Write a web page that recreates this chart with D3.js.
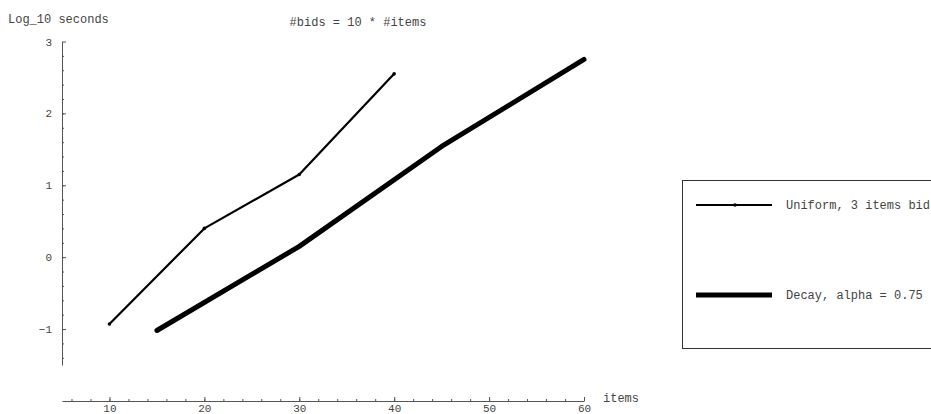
<!DOCTYPE html>
<html lang="en">
<head>
<meta charset="UTF-8">
<title>bids = 10 * items</title>
<script src="https://d3js.org/d3.v7.min.js"></script>
<style>
body { margin: 0; background: #fff; overflow: hidden; }
svg { display: block; }
text { font-family: "Liberation Mono", "DejaVu Sans Mono", monospace; }
.axis path, .axis line { stroke: #555; }
.axis text { fill: #444; font-size: 11px; font-family: "Liberation Mono", monospace; }
</style>
</head>
<body>
<script>
// data
const uniformItems = [10, 20, 30, 40];
const uniformLog = [-0.93, 0.40, 1.15, 2.55];
const decayItems = [15, 30, 45, 60];
const decayLog = [-1.02, 0.15, 1.54, 2.75];
const xTicks = [10, 20, 30, 40, 50, 60];
const yTicks = [-1, 0, 1, 2, 3];

const w = 931, h = 414;
const svg = d3.select('body').append('svg').attr('width', w).attr('height', h);

const x = d3.scaleLinear().domain([5, 60]).range([62, 584]);
const y = d3.scaleLinear().domain([-1.5, 3]).range([365, 41.5]);

// minor ticks first
svg.append('g').attr('class', 'axis').attr('transform', 'translate(0,401)')
    .call(d3.axisBottom(x).tickValues(d3.range(6, 60, 2)).tickSize(-2).tickFormat(''))
    .call(g => g.select('.domain').remove());
svg.append('g').attr('class', 'axis').attr('transform', 'translate(62,0)')
    .call(d3.axisLeft(y).tickValues(d3.range(-1.4, 3, 0.2)).tickSize(-2).tickFormat(''))
    .call(g => g.select('.domain').remove());

svg.append('g').attr('class', 'axis').attr('transform', 'translate(0,401)')
    .call(d3.axisBottom(x).tickValues(xTicks).tickSizeInner(-4).tickSizeOuter(0).tickPadding(3));

svg.append('g').attr('class', 'axis').attr('transform', 'translate(62,0)')
    .call(d3.axisLeft(y).tickValues(yTicks).tickSizeInner(-4).tickSizeOuter(0).tickPadding(10)
        .tickFormat(d => d < 0 ? '\u2212' + Math.abs(d) : d));

const line = d3.line().x(d => x(d[0])).y(d => y(d[1]));
const uniform = uniformItems.map((v, i) => [v, uniformLog[i]]);
const decay = decayItems.map((v, i) => [v, decayLog[i]]);

svg.append('path').datum(uniform).attr('d', line)
    .attr('fill', 'none').attr('stroke', '#000').attr('stroke-width', 2.2)
    .attr('stroke-linejoin', 'round').attr('stroke-linecap', 'round');
svg.selectAll('.pt').data(uniform).enter().append('circle').attr('class', 'pt')
    .attr('cx', d => x(d[0])).attr('cy', d => y(d[1])).attr('r', 1.8).attr('fill', '#000');

svg.append('path').datum(decay).attr('d', line)
    .attr('fill', 'none').attr('stroke', '#000').attr('stroke-width', 5)
    .attr('stroke-linejoin', 'round').attr('stroke-linecap', 'round');

// titles
svg.append('text').attr('x', 8).attr('y', 23).attr('font-size', 12).attr('fill', '#444').text('Log_10 seconds');
svg.append('text').attr('x', 358).attr('y', 26).attr('text-anchor', 'middle').attr('font-size', 12).attr('fill', '#444').text('#bids = 10 * #items');
svg.append('text').attr('x', 603).attr('y', 402).attr('font-size', 12).attr('fill', '#444').text('items');

// legend
const legend = svg.append('g');
legend.append('rect').attr('x', 682.5).attr('y', 180.5).attr('width', 300).attr('height', 168)
    .attr('fill', 'none').attr('stroke', '#333').attr('stroke-width', 1);
legend.append('line').attr('x1', 696).attr('x2', 772).attr('y1', 205).attr('y2', 205)
    .attr('stroke', '#000').attr('stroke-width', 2.2);
legend.append('circle').attr('cx', 735).attr('cy', 205).attr('r', 1.8).attr('fill', '#000');
legend.append('text').attr('x', 786).attr('y', 209).attr('font-size', 12).attr('fill', '#444').text('Uniform, 3 items bid');
legend.append('line').attr('x1', 696).attr('x2', 772).attr('y1', 295).attr('y2', 295)
    .attr('stroke', '#000').attr('stroke-width', 5);
legend.append('text').attr('x', 786).attr('y', 299).attr('font-size', 12).attr('fill', '#444').text('Decay, alpha = 0.75');
</script>
</body>
</html>
